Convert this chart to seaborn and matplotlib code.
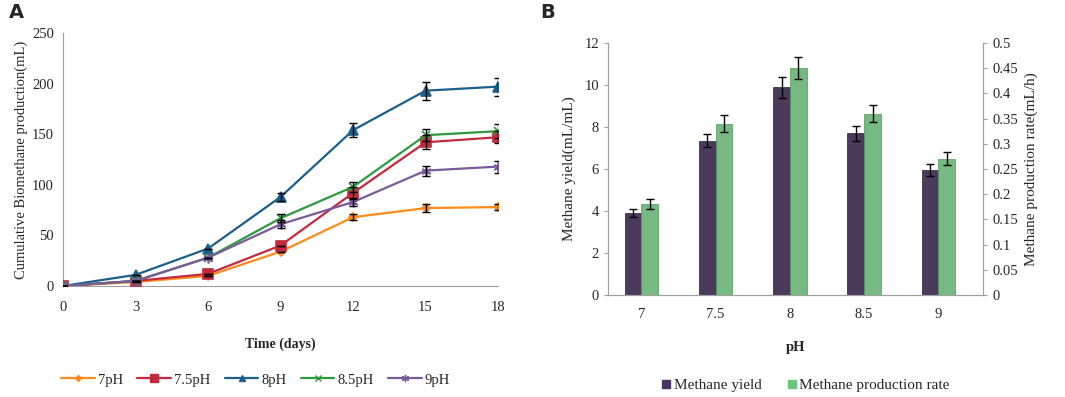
import numpy as np
import pandas as pd
import matplotlib
matplotlib.use("Agg")
import matplotlib.pyplot as plt
import seaborn as sns

# panel A data: cumulative biomethane (mL) vs time (days)
days = [0, 3, 6, 9, 12, 15, 18]
ph_labels = ["7pH", "7.5pH", "8pH", "8.5pH", "9pH"]
ph7 = [0, 4, 10, 34, 68, 77, 78]
ph75 = [0, 5, 12, 40, 92, 142, 147]
ph8 = [0, 11, 37, 88, 154, 193, 197]
ph85 = [0, 5, 28, 67, 98, 149, 153]
ph9 = [0, 5, 28, 61, 83, 114, 118]
err7 = [0, 0, 0, 0, 3, 4, 3]
err75 = [0, 0, 0, 0, 6, 7, 6]
err8 = [0, 0, 0, 4, 7, 9, 9]
err85 = [0, 0, 0, 4, 5, 6, 7]
err9 = [0, 0, 0, 4, 4, 5, 6]

# panel B data
ph_cats = ["7", "7.5", "8", "8.5", "9"]
yield_vals = [3.9, 7.35, 9.9, 7.7, 5.95]
yield_err = [0.18, 0.32, 0.5, 0.35, 0.27]
rate_vals = [0.18, 0.34, 0.45, 0.36, 0.27]
rate_err = [0.01, 0.017, 0.022, 0.017, 0.013]

sns.set_style("white")
plt.rcParams["font.family"] = ["Liberation Serif", "DejaVu Serif"]

line_colors = ["#FF8A1C", "#C42A3E", "#1C5F8A", "#2E9A40", "#7A5A9A"]
markers = ["D", "s", "^", "x", (6, 2, 0)]
msizes = [4, 7, 6.5, 6, 7]
grey = "#A0A0A0"

fig = plt.figure(figsize=(10.65, 3.97), dpi=100)

# ---- panel A ----
axA = fig.add_axes([0.0592, 0.2796, 0.4085, 0.6373])
series = [ph7, ph75, ph8, ph85, ph9]
errs = [err7, err75, err8, err85, err9]
for lab, s, e, c, m, ms in zip(ph_labels, series, errs, line_colors, markers, msizes):
    sns.lineplot(x=days, y=s, color=c, marker=m, markersize=ms,
                 markeredgecolor=c, markeredgewidth=1.2, linewidth=1.6,
                 ax=axA, label=lab, legend=False, zorder=3)
    axA.errorbar(days, s, yerr=e, fmt="none", ecolor="black",
                 elinewidth=1, capsize=3, capthick=1, zorder=4)

axA.set_xlim(0, 18)
axA.set_ylim(0, 250)
axA.set_xticks(days)
axA.set_yticks(range(0, 251, 50))
axA.set_xlabel("Time (days)", fontsize=10, fontweight="bold", labelpad=17)
axA.set_ylabel("Cumulative Biomethane production(mL)", fontsize=10.5, labelpad=3)
axA.tick_params(labelsize=10.5, length=3, color=grey, direction="out")
axA.tick_params(axis="x", pad=8)
for side in ["top", "right"]:
    axA.spines[side].set_visible(False)
for side in ["left", "bottom"]:
    axA.spines[side].set_color(grey)

handlesA = [plt.Line2D([], [], color=c, marker=m, markersize=ms * 0.75,
                       markeredgecolor=c, lw=1.6)
            for c, m, ms in zip(line_colors, markers, msizes)]
fig.legend(handlesA, ph_labels, loc="center", bbox_to_anchor=(0.24, 0.043),
           ncol=5, frameon=False, fontsize=10.5, handlelength=2.3,
           columnspacing=1.0, handletextpad=0.2)
fig.text(0.008, 0.955, "A", fontsize=14, fontweight="bold",
         family="DejaVu Sans")

# ---- panel B ----
axB = fig.add_axes([0.5709, 0.2569, 0.3521, 0.6348])
axB2 = axB.twinx()
hue_order = ["Methane yield", "Methane production rate"]
bar_colors = {"Methane yield": "#4A3560", "Methane production rate": "#6CC47C"}
dfy = pd.DataFrame({"pH": ph_cats, "val": yield_vals, "s": "Methane yield"})
dfr = pd.DataFrame({"pH": ph_cats, "val": rate_vals, "s": "Methane production rate"})
sns.barplot(data=dfy, x="pH", y="val", hue="s", hue_order=hue_order,
            palette=bar_colors, width=0.45, dodge=True, ax=axB, legend=False,
            edgecolor="#2A1D38", linewidth=0.5)
sns.barplot(data=dfr, x="pH", y="val", hue="s", hue_order=hue_order,
            palette=bar_colors, width=0.45, dodge=True, ax=axB2, legend=False,
            edgecolor="#4E9A5A", linewidth=0.5)
for ax, e in [(axB, yield_err), (axB2, rate_err)]:
    pts = [p for p in ax.patches if p.get_height() > 0]
    xs = [p.get_x() + p.get_width() / 2 for p in pts]
    hs = [p.get_height() for p in pts]
    ax.errorbar(xs, hs, yerr=e, fmt="none", ecolor="black",
                elinewidth=1, capsize=3, capthick=1, zorder=5)

axB.set_xlim(-0.45, 4.6)
axB.set_ylim(0, 12)
axB2.set_ylim(0, 0.5)
axB.set_yticks(range(0, 13, 2))
axB2.set_yticks(np.arange(0, 0.51, 0.05))
axB2.set_yticklabels(["0", "0.05", "0.1", "0.15", "0.2", "0.25", "0.3",
                      "0.35", "0.4", "0.45", "0.5"])
axB.set_xlabel("pH", fontsize=10.5, fontweight="bold", labelpad=15)
axB.set_ylabel("Methane yield(mL/mL)", fontsize=11, labelpad=6)
axB2.set_ylabel("Methane production rate(mL/h)", fontsize=11, labelpad=5)
axB.tick_params(labelsize=10.5, length=3, color=grey, direction="out")
axB.tick_params(axis="x", length=0, pad=9)
axB2.tick_params(labelsize=10.5, length=3, color=grey, direction="out")
for ax in [axB, axB2]:
    ax.spines["top"].set_visible(False)
    for side in ["left", "right", "bottom"]:
        ax.spines[side].set_color(grey)
axB2.set_xlabel("")

handlesB = [plt.Line2D([], [], marker="s", color=bar_colors[h], lw=0,
                       markersize=6) for h in hue_order]
fig.legend(handlesB, hue_order, loc="center", bbox_to_anchor=(0.755, 0.03),
           ncol=2, frameon=False, fontsize=11, handletextpad=0.0,
           columnspacing=1.5, handlelength=1.0)
fig.text(0.507, 0.955, "B", fontsize=14, fontweight="bold",
         family="DejaVu Sans")

fig.savefig("out.png", dpi=100)
